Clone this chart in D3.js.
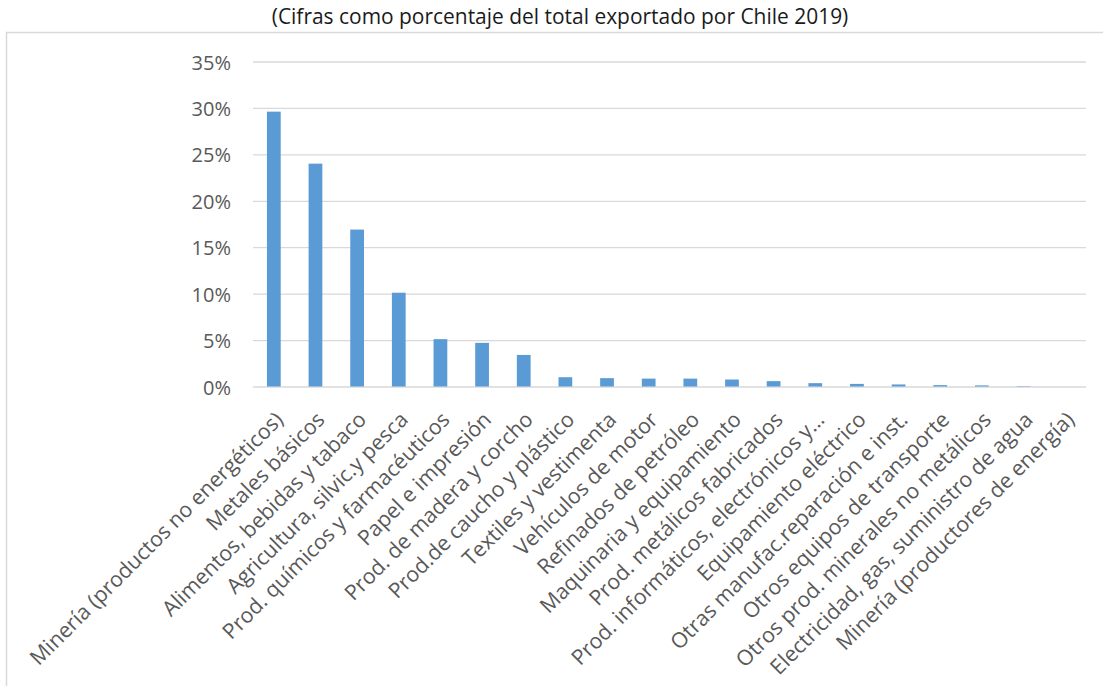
<!DOCTYPE html>
<html lang="es">
<head>
<meta charset="utf-8">
<title>Exportaciones de Chile 2019</title>
<script src="https://cdn.jsdelivr.net/npm/d3@7"></script>
<style>
  html, body { margin: 0; padding: 0; background: #ffffff; }
  svg { display: block; font-family: "Open Sans", sans-serif; }
</style>
</head>
<body>
<svg id="chart" width="1103" height="686"></svg>
<script>
// Sectores exportadores (orden del gráfico)
const categories = [
  "Minería (productos no energéticos)",
  "Metales básicos",
  "Alimentos, bebidas y tabaco",
  "Agricultura, silvic.y pesca",
  "Prod. químicos y farmacéuticos",
  "Papel e impresión",
  "Prod. de madera y corcho",
  "Prod.de caucho y plástico",
  "Textiles y vestimenta",
  "Vehículos de motor",
  "Refinados de petróleo",
  "Maquinaria y equipamiento",
  "Prod. metálicos fabricados",
  "Prod. informáticos, electrónicos y…",
  "Equipamiento eléctrico",
  "Otras manufac.reparación e inst.",
  "Otros equipos de transporte",
  "Otros prod. minerales no metálicos",
  "Electricidad, gas, suministro de agua",
  "Minería (productores de energía)"
];

// Participación de cada sector en el total exportado (%)
const shares = [29.6, 24.0, 16.9, 10.1, 5.1, 4.7, 3.4, 1.0, 0.9, 0.85,
                0.85, 0.75, 0.58, 0.36, 0.28, 0.22, 0.15, 0.12, 0.04, 0.0];

// Marcas del eje vertical (%)
const yTicks = [0, 5, 10, 15, 20, 25, 30, 35];

const titleText = "(Cifras como porcentaje del total exportado por Chile 2019)";

const svg = d3.select("#chart");

// Marco del área del gráfico
svg.append("rect")
  .attr("x", 6.5).attr("y", 32.5)
  .attr("width", 1110).attr("height", 670)
  .attr("fill", "none")
  .attr("stroke", "#d9d9d9")
  .attr("stroke-width", 1.5);

// Título
const title = svg.append("text")
  .attr("x", 560).attr("y", 24)
  .attr("text-anchor", "middle")
  .attr("fill", "#1a1a1a")
  .style("font-size", "19px")
  .text(titleText);
const tw = title.node().getComputedTextLength();
title.style("font-size", (19 * 577 / tw) + "px");

const plot = { left: 253, right: 1086, top: 61.5, bottom: 386.5 };

const x = d3.scaleBand()
  .domain(categories)
  .range([plot.left, plot.right])
  .paddingInner(0.67)
  .paddingOuter(0.335);

const y = d3.scaleLinear()
  .domain([0, 35])
  .range([plot.bottom, plot.top]);

// Eje Y con líneas de cuadrícula
const yAxis = svg.append("g")
  .attr("transform", `translate(${plot.left},0)`)
  .call(d3.axisLeft(y)
    .tickValues(yTicks)
    .tickFormat(d => d + "%")
    .tickSize(-(plot.right - plot.left))
    .tickPadding(22));
yAxis.select(".domain").remove();
yAxis.selectAll(".tick line")
  .attr("stroke", "#d9d9d9")
  .attr("stroke-width", 1.3);
yAxis.selectAll(".tick text")
  .attr("fill", "#595959")
  .attr("dy", "0.38em")
  .style("font-size", "20px")
  .style("font-family", "'Open Sans', sans-serif");

// Barras
svg.append("g")
  .selectAll("rect")
  .data(categories)
  .join("rect")
  .attr("x", d => x(d))
  .attr("width", x.bandwidth())
  .attr("y", (d, i) => y(shares[i]))
  .attr("height", (d, i) => y(0) - y(shares[i]))
  .attr("fill", "#5b9bd5");

// Eje X con etiquetas inclinadas
const xAxis = svg.append("g")
  .attr("transform", `translate(0,${plot.bottom})`)
  .call(d3.axisBottom(x).tickSize(0));
xAxis.select(".domain").remove();
xAxis.selectAll(".tick text")
  .attr("x", 0).attr("y", 0).attr("dy", 0)
  .attr("transform", "translate(10.5,34.5) rotate(-45)")
  .attr("text-anchor", "end")
  .attr("fill", "#595959")
  .style("font-size", "21.3px")
  .style("font-family", "'Open Sans', sans-serif");
</script>
</body>
</html>
